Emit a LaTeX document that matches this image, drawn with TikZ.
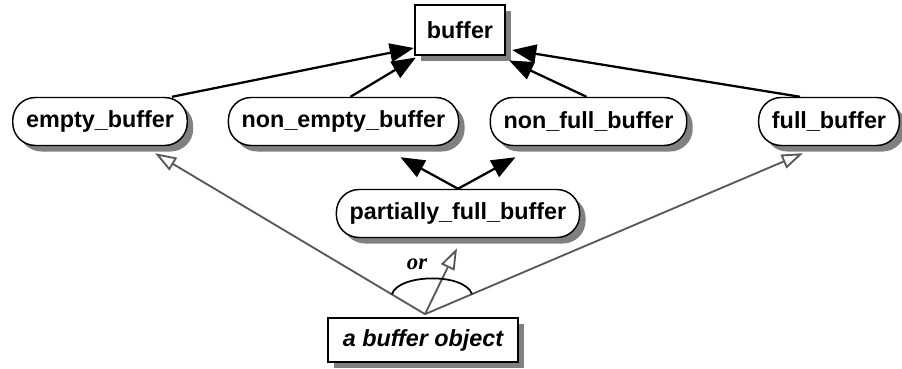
\documentclass[tikz,border=0pt]{standalone}
\usepackage{fontspec}
\setmainfont{Liberation Serif}
\setsansfont{Liberation Sans}
\usepackage{tikz}
\usetikzlibrary{arrows.meta,shadows,calc}

\tikzset{
  shade box/.style={drop shadow={shadow xshift=4.5pt,shadow yshift=-4.5pt,fill=black!50,opacity=1}},
  typebox/.style={draw,line width=1.1pt,fill=white,shade box,rounded corners=17pt,
    minimum height=36pt,inner xsep=10pt,font=\sffamily\bfseries\fontsize{17.5}{20}\selectfont},
  rootbox/.style={draw,line width=1.3pt,fill=white,shade box,minimum width=68pt,
    minimum height=37pt,font=\sffamily\bfseries\fontsize{17.5}{20}\selectfont},
  objbox/.style={draw,line width=1.3pt,fill=white,shade box,minimum width=142pt,
    minimum height=33pt,font=\sffamily\bfseries\itshape\fontsize{17.5}{20}\selectfont},
  isa/.style={line width=1.7pt,-{Triangle[length=18pt,width=14pt]}},
  inst/.style={draw=black!65,line width=1.4pt,-{Triangle[open,length=16pt,width=11pt]}}
}

\begin{document}
\begin{tikzpicture}[x=0.75pt,y=-0.75pt]
    \useasboundingbox (0,0) rectangle (902,368);

%draw type nodes
    \node[rootbox] (buffer) at (460,30) {buffer};
    \node[typebox] (empty) at (100,121.5) {empty\_buffer};
    \node[typebox] (nonempty) at (343.5,121.5) {non\_empty\_buffer};
    \node[typebox] (nonfull) at (588.5,121.5) {non\_full\_buffer};
    \node[typebox] (full) at (829,121.5) {full\_buffer};
    \node[typebox] (partial) at (458,213.5) {partially\_full\_buffer};
    \node[objbox] (obj) at (423,340) {a buffer object};

%draw subtype arrows
    \draw[isa] ($(empty.north)+(72,0)$) -- ($(buffer.west)+(0,18)$);
    \draw[isa] ($(nonempty.north)+(7,0)$) -- ($(buffer.south west)+(2,2)$);
    \draw[isa] ($(nonfull.north)+(-2,0)$) -- ($(buffer.south east)+(3,5)$);
    \draw[isa] ($(full.north)+(-29,0)$) -- ($(buffer.east)+(6,20)$);
    \draw[isa] (partial.north) -- ($(nonempty.south)+(57,11)$);
    \draw[isa] (partial.north) -- ($(nonfull.south)+(-73,11)$);

%draw instance arrows
    \coordinate (apex) at ($(obj.north)+(2,-3)$);
    \draw[inst] (apex) -- ($(empty.south)+(55,7)$);
    \draw[inst] (apex) -- ($(full.south)+(-26,7)$);
    \draw[inst] (apex) -- ($(partial.south)+(-1,10)$);

%draw the or arc
    \coordinate (arcl) at ($(apex)+(-33,-20)$);
    \coordinate (arcr) at ($(apex)+(47,-20)$);
    \draw[line width=1.3pt] (arcl) .. controls ($(arcl)+(6,-20)$) and ($(arcr)+(-8,-22)$) .. (arcr);
    \node[font=\bfseries\itshape\fontsize{17}{20}\selectfont] (orlabel) at (417,264) {or};

\end{tikzpicture}
\end{document}
